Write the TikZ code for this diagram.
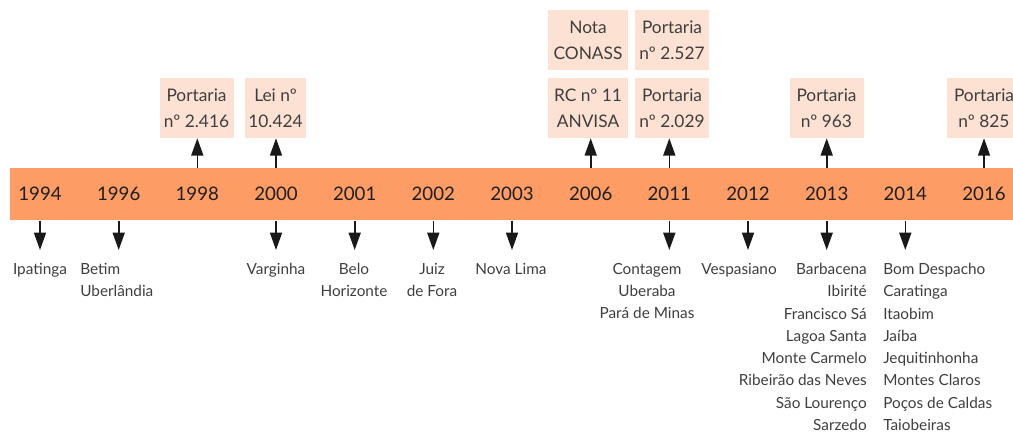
\documentclass[tikz,border=0pt]{standalone}
\usepackage{fontspec}
\setmainfont{Lato}
\usetikzlibrary{arrows.meta,positioning}
\definecolor{barorange}{RGB}{253,157,101}
\definecolor{boxpeach}{RGB}{253,226,212}
\definecolor{txtgray}{RGB}{62,62,62}
\tikzset{
  year/.style={font=\fontsize{14}{16}\selectfont, text=black!88, inner sep=0pt},
  docbox/.style={fill=boxpeach, text=txtgray, align=center, minimum width=55.5pt, minimum height=45pt, inner sep=2pt, font=\fontsize{13}{19.5}\selectfont},
  city/.style={text=txtgray, inner sep=0pt, anchor=north, font=\fontsize{11.5}{16.7}\selectfont},
  arrowup/.style={-{Triangle[width=9pt,length=13pt]}, line width=1.2pt, black!90},
  arrowdown/.style={-{Triangle[width=9pt,length=13pt]}, line width=1.2pt, black!90, shorten >=9.75pt}
}

\begin{document}
\begin{tikzpicture}[x=0.75pt,y=-0.75pt]
	\useasboundingbox (0,0) rectangle (1013,433);

	% the bar with the years
	\node[fill=barorange, minimum width=752.25pt, minimum height=39pt, inner sep=0pt, anchor=north west] (bar) at (10,168) {};
	\node[year] (y1994) at (40,194) {1994};
	\node[year] (y1996) at (118.7,194) {1996};
	\node[year] (y1998) at (197.3,194) {1998};
	\node[year] (y2000) at (276,194) {2000};
	\node[year] (y2001) at (354.7,194) {2001};
	\node[year] (y2002) at (433.3,194) {2002};
	\node[year] (y2003) at (512,194) {2003};
	\node[year] (y2006) at (590.7,194) {2006};
	\node[year] (y2011) at (669.3,194) {2011};
	\node[year] (y2012) at (748,194) {2012};
	\node[year] (y2013) at (826.7,194) {2013};
	\node[year] (y2014) at (905.3,194) {2014};
	\node[year] (y2016) at (984,194) {2016};

	% documents above
	\node[docbox] (d1998) at (196.5,108) {Portaria\\nº 2.416};
	\node[docbox, minimum width=45.75pt] (d2000) at (275.5,108) {Lei nº\\10.424};
	\node[docbox, minimum width=60pt] (d2006) at (588,108) {RC nº 11\\ANVISA};
	\node[docbox, minimum width=60pt, above=5.25pt of d2006] (d2006b) {Nota\\CONASS};
	\node[docbox] (d2011) at (672,108) {Portaria\\nº 2.029};
	\node[docbox, above=5.25pt of d2011] (d2011b) {Portaria\\nº 2.527};
	\node[docbox] (d2013) at (826.5,108) {Portaria\\nº 963};
	\node[docbox] (d2016) at (984,108) {Portaria\\nº 825};

	\draw[arrowup] (y1998 |- bar.north) -- (y1998 |- d1998.south);
	\draw[arrowup] (y2000 |- bar.north) -- (y2000 |- d2000.south);
	\draw[arrowup] (y2006 |- bar.north) -- (y2006 |- d2006.south);
	\draw[arrowup] (y2011 |- bar.north) -- (y2011 |- d2011.south);
	\draw[arrowup] (y2013 |- bar.north) -- (y2013 |- d2013.south);
	\draw[arrowup] (y2016 |- bar.north) -- (y2016 |- d2016.south);

	% cities below
	\node[city] (c1994) at (40,263) {Ipatinga};
	\node[city, anchor=north west, align=left] (c1996) at (80,263) {Betim\\Uberlândia};
	\node[city] (c2000) at (276,263) {Varginha};
	\node[city, align=center] (c2001) at (354,263) {Belo\\Horizonte};
	\node[city, align=center] (c2002) at (432,263) {Juiz\\de Fora};
	\node[city] (c2003) at (511,263) {Nova Lima};
	\node[city, align=center] (c2011) at (647,263) {Contagem\\Uberaba\\Pará de Minas};
	\node[city] (c2012) at (739,263) {Vespasiano};
	\node[city, anchor=north east, align=right] (c2013) at (867,263) {Barbacena\\Ibirité\\Francisco Sá\\Lagoa Santa\\Monte Carmelo\\Ribeirão das Neves\\São Lourenço\\Sarzedo};
	\node[city, anchor=north west, align=left] (c2014) at (883,263) {Bom Despacho\\Caratinga\\Itaobim\\Jaíba\\Jequitinhonha\\Montes Claros\\Poços de Caldas\\Taiobeiras};

	\draw[arrowdown] (y1994 |- bar.south) -- (y1994 |- c1994.north);
	\draw[arrowdown] (y1996 |- bar.south) -- (y1996 |- c1996.north);
	\draw[arrowdown] (y2000 |- bar.south) -- (y2000 |- c2000.north);
	\draw[arrowdown] (y2001 |- bar.south) -- (y2001 |- c2001.north);
	\draw[arrowdown] (y2002 |- bar.south) -- (y2002 |- c2002.north);
	\draw[arrowdown] (y2003 |- bar.south) -- (y2003 |- c2003.north);
	\draw[arrowdown] (y2011 |- bar.south) -- (y2011 |- c2011.north);
	\draw[arrowdown] (y2012 |- bar.south) -- (y2012 |- c2012.north);
	\draw[arrowdown] (y2013 |- bar.south) -- (y2013 |- c2013.north);
	\draw[arrowdown] (y2014 |- bar.south) -- (y2014 |- c2014.north);
\end{tikzpicture}
\end{document}
